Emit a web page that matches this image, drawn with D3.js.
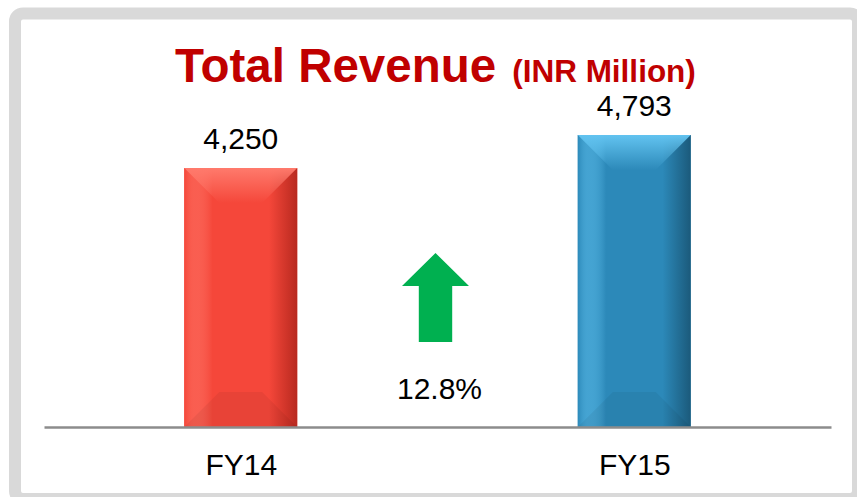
<!DOCTYPE html>
<html>
<head>
<meta charset="utf-8">
<script src="https://cdn.jsdelivr.net/npm/d3@7"></script>
<style>
  body { margin: 0; background: #fff; }
  svg { display: block; font-family: "Liberation Sans", Arial, sans-serif; }
</style>
</head>
<body>
<div id="chart"></div>
<script>
var svgWidth = 857;
var svgHeight = 497;

// data
var categories = ["FY14", "FY15"];
var revenue = [4250, 4793];
var growthLabel = "12.8%";
var barColors = [
    { base: "#f5473a", light: "#ff7a6c", dark: "#b8291f" },
    { base: "#2c89b9", light: "#62c3f0", dark: "#1b5a7b" }
];

var baseY = 427;
var bevel = 35;

var svg = d3.select("#chart")
    .append("svg")
    .attr("width", svgWidth)
    .attr("height", svgHeight);

// grey frame
svg.append("rect")
    .attr("x", 15)
    .attr("y", 13.5)
    .attr("width", 843)
    .attr("height", 485.5)
    .attr("rx", 8)
    .attr("fill", "#fff")
    .attr("stroke", "#d9d9d9")
    .attr("stroke-width", 12);

var xScale = d3.scalePoint()
    .domain(categories)
    .range([44, 831])
    .padding(0.5);

var barWidth = xScale.step() * 0.287;

var yScale = d3.scaleLinear()
    .domain([0, d3.max(revenue)])
    .range([baseY, 135]);

var defs = svg.append("defs");

barColors.forEach(function(c, i) {
    var side = defs.append("linearGradient")
        .attr("id", "side" + i)
        .attr("x1", 0).attr("x2", 1).attr("y1", 0).attr("y2", 0);
    side.append("stop").attr("offset", "0%").attr("stop-color", c.base);
    side.append("stop").attr("offset", "10%").attr("stop-color", c.light).attr("stop-opacity", 0.45);
    side.append("stop").attr("offset", "25%").attr("stop-color", c.base);
    side.append("stop").attr("offset", "75%").attr("stop-color", c.base);
    side.append("stop").attr("offset", "100%").attr("stop-color", c.dark);

    var top = defs.append("linearGradient")
        .attr("id", "top" + i)
        .attr("x1", 0).attr("x2", 0).attr("y1", 0).attr("y2", 1);
    top.append("stop").attr("offset", "0%").attr("stop-color", c.light);
    top.append("stop").attr("offset", "100%").attr("stop-color", c.light).attr("stop-opacity", 0);
});

var data = categories.map(function(d, i) {
    return { cat: d, value: revenue[i], idx: i };
});

var bars = svg.append("g")
    .selectAll("g")
    .data(data)
    .enter()
    .append("g");

bars.append("rect")
    .attr("x", d => xScale(d.cat) - barWidth / 2)
    .attr("y", d => yScale(d.value))
    .attr("width", barWidth)
    .attr("height", d => baseY - yScale(d.value))
    .attr("fill", d => barColors[d.idx].base);

bars.append("rect")
    .attr("x", d => xScale(d.cat) - barWidth / 2)
    .attr("y", d => yScale(d.value))
    .attr("width", barWidth)
    .attr("height", d => baseY - yScale(d.value))
    .attr("fill", d => "url(#side" + d.idx + ")");

// top bevel
bars.append("path")
    .attr("d", function(d) {
        var x0 = xScale(d.cat) - barWidth / 2, x1 = x0 + barWidth, y0 = yScale(d.value);
        return "M" + x0 + "," + y0 + "L" + x1 + "," + y0 +
            "L" + (x1 - bevel) + "," + (y0 + bevel) + "L" + (x0 + bevel) + "," + (y0 + bevel) + "Z";
    })
    .attr("fill", d => "url(#top" + d.idx + ")");

// bottom bevel
bars.append("path")
    .attr("d", function(d) {
        var x0 = xScale(d.cat) - barWidth / 2, x1 = x0 + barWidth;
        return "M" + x0 + "," + baseY + "L" + x1 + "," + baseY +
            "L" + (x1 - bevel) + "," + (baseY - bevel) + "L" + (x0 + bevel) + "," + (baseY - bevel) + "Z";
    })
    .attr("fill", "#000")
    .attr("opacity", 0.05);

bars.append("text")
    .attr("x", d => xScale(d.cat))
    .attr("y", d => yScale(d.value) - 19)
    .attr("text-anchor", "middle")
    .attr("font-size", 30)
    .attr("fill", "#000")
    .text(d => d3.format(",")(d.value));

// x axis
var xAxis = svg.append("g")
    .attr("transform", `translate(0, ${baseY})`)
    .call(d3.axisBottom(xScale).tickSize(0).tickSizeOuter(0).tickPadding(27));

xAxis.select(".domain")
    .attr("stroke", "#8c8c8c")
    .attr("stroke-width", 2.5);

xAxis.selectAll("text")
    .attr("font-size", 30)
    .attr("font-family", "Liberation Sans, Arial, sans-serif")
    .attr("fill", "#000");

// title
var title = svg.append("text")
    .attr("x", 175)
    .attr("y", 82)
    .attr("fill", "#c00000")
    .attr("font-weight", "bold");
title.append("tspan").attr("font-size", 47.5).text("Total Revenue");
title.append("tspan").attr("font-size", 31.5).attr("dx", 16).text("(INR Million)");

// growth arrow
var midX = (xScale(categories[0]) + xScale(categories[1])) / 2 - 2;
var arrow = [
    [0, 253], [33.5, 286], [16.7, 286], [16.7, 342],
    [-16.7, 342], [-16.7, 286], [-33.5, 286]
];
svg.append("path")
    .attr("d", d3.line()(arrow.map(p => [midX + p[0], p[1]])) + "Z")
    .attr("fill", "#00b050");

svg.append("text")
    .attr("x", midX + 4)
    .attr("y", 399)
    .attr("text-anchor", "middle")
    .attr("font-size", 30)
    .attr("fill", "#000")
    .text(growthLabel);
</script>
</body>
</html>
